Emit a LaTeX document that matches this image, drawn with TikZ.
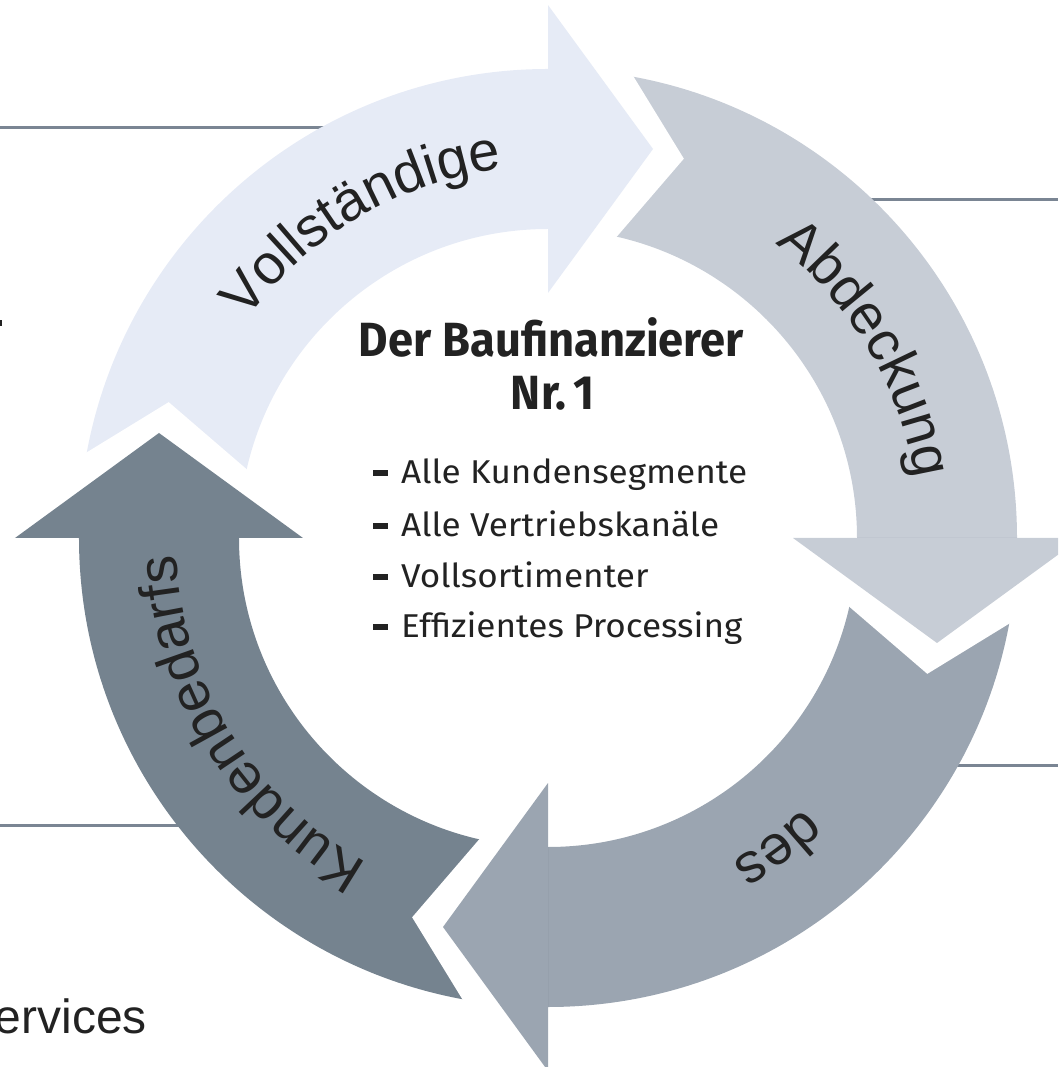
\documentclass[tikz,border=0pt]{standalone}
\usepackage{fontspec}
\setmainfont{Liberation Sans}
\newfontfamily\centerfam{Fira Sans}
\newfontfamily\arcfam{Liberation Sans}
\usetikzlibrary{decorations.text}
\definecolor{cTop}{HTML}{E6EBF6}
\definecolor{cRight}{HTML}{C7CDD6}
\definecolor{cBottom}{HTML}{9BA5B1}
\definecolor{cLeft}{HTML}{75838F}
\definecolor{cLine}{HTML}{7A8593}
\definecolor{cText}{HTML}{222222}
\newcommand\arcfont{\fontsize{56pt}{60pt}\selectfont\arcfam}
\newcommand\titlefont{\centerfam\bfseries\fontsize{48pt}{52pt}\selectfont}
\newcommand\bulletfont{\centerfam\fontsize{33pt}{36pt}\selectfont}
\newsavebox\mytmpbox
\newdimen\mytmpdim
\begin{document}%
\sbox\mytmpbox{\titlefont Der Baufinanzierer}\mytmpdim=\wd\mytmpbox%
\pgfmathsetmacro\tscale{385/\mytmpdim}%
\sbox\mytmpbox{\bulletfont Alle Kundensegmente}\mytmpdim=\wd\mytmpbox%
\pgfmathsetmacro\bscale{346/\mytmpdim}%
\begin{tikzpicture}[x=1pt,y=1pt,
  guide/.style={draw=cLine, line width=3pt},
  bodyshape/.style={fill=#1},
  gapcut/.style={fill=white},
  arclabel/.style={decorate, decoration={text along path, text align=center, text={|\arcfont\color{cText}|#1}}},
  bulletbar/.style={fill=cText},
  bullettext/.style={anchor=base west, inner sep=0pt, text=cText, font=\bulletfont}]
\useasboundingbox (-548,-529) rectangle (510,538);
\clip (-548,-529) rectangle (510,538);
% guide lines (behind the cycle)
\coordinate (l1a) at (-548,410); \coordinate (l1b) at (-100,410);
\coordinate (l2a) at (200,338);  \coordinate (l2b) at (510,338);
\coordinate (l3a) at (300,-227); \coordinate (l3b) at (510,-227);
\coordinate (l4a) at (-548,-287); \coordinate (l4b) at (-300,-287);
\draw[guide] (l1a) -- (l1b);
\draw[guide] (l2a) -- (l2b);
\draw[guide] (l3a) -- (l3b);
\draw[guide] (l4a) -- (l4b);
% bodies
\foreach \rot/\col in {0/cTop,-90/cRight,-180/cBottom,-270/cLeft}{
  \begin{scope}[rotate=\rot]
    \fill[bodyshape=\col] (90:309) -- (90:469) arc[start angle=90,end angle=180,radius=469]
      -- (180:309) arc[start angle=180,end angle=90,radius=309] -- cycle;
  \end{scope}
}
% gaps cut into the tails
\foreach \rot in {0,-90,-180,-270}{
  \begin{scope}[rotate=\rot]
    \fill[gapcut, rotate=85.4] (0,245) -- (0,533) -- (105,389) -- cycle;
  \end{scope}
}
% heads
\foreach \rot/\col in {0/cTop,-90/cRight,-180/cBottom,-270/cLeft}{
  \begin{scope}[rotate=\rot]
    \fill[bodyshape=\col] (0,245) -- (0,533) -- (105,389) -- cycle;
  \end{scope}
}
% arc labels
\path[arclabel={Vollständige}] (160.6:372) arc[start angle=160.6,end angle=80.6,radius=372];
\path[arclabel={Abdeckung}] (65.7:372) arc[start angle=65.7,end angle=-4.3,radius=372];
\path[arclabel={des}] (-23.5:372) arc[start angle=-23.5,end angle=-83.5,radius=372];
\path[arclabel={Kundenbedarfs}] (256.8:372) arc[start angle=256.8,end angle=166.8,radius=372];
% center text
\node[anchor=base, inner sep=0pt, text=cText, font=\titlefont] (title) at (3.5,181) {\scalebox{\tscale}[1]{Der Baufinanzierer}};
\node[anchor=base, inner sep=0pt, text=cText, font=\titlefont] (nr) at (5,128) {\scalebox{\tscale}[1]{Nr.\,1}};
\foreach \nm/\y/\txt in {b1/54/Alle Kundensegmente, b2/1/Alle Vertriebskanäle, b3/-50/Vollsortimenter, b4/-100/Effizientes Processing}{
  \fill[bulletbar] (-175,\y+8) rectangle (-160,\y+14);
  \node[bullettext] (\nm) at (-147,\y) {\scalebox{\bscale}[1]{\txt}};
}
% fragments at the left edge
\node[anchor=base east, inner sep=0pt, text=cText, font=\fontsize{48pt}{52pt}\selectfont] (services) at (-401,-495) {Services};
\fill[cText] (-548,212) rectangle (-546,218);
\end{tikzpicture}%
\end{document}
